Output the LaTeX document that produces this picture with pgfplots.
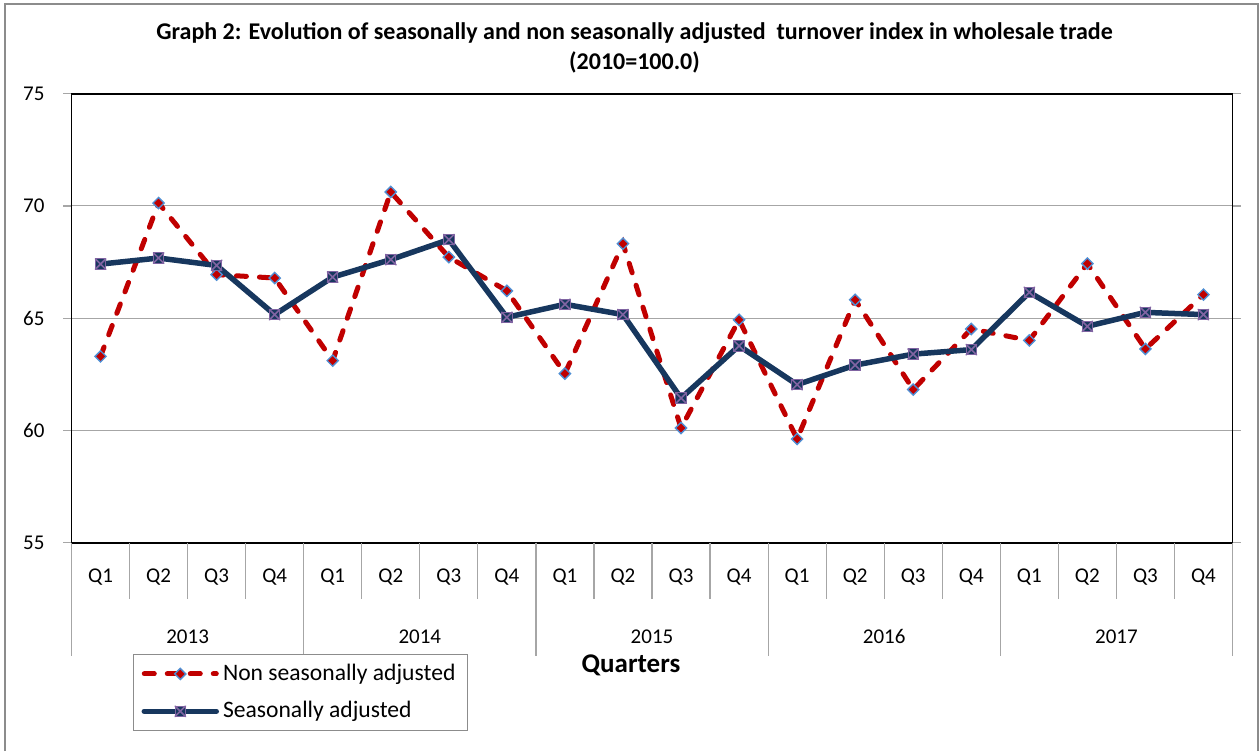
\documentclass[border=0pt]{standalone}
\usepackage{pgfplots}
\pgfplotsset{compat=1.18}
\usepackage{fontspec}
\setmainfont{Carlito}
\definecolor{nsared}{HTML}{C00000}
\definecolor{nsablue}{HTML}{4F8FD4}
\definecolor{sanavy}{HTML}{17375E}
\definecolor{sapurple}{HTML}{8064A2}
\definecolor{framegray}{HTML}{8C8C8C}
\definecolor{gridgray}{HTML}{A6A6A6}
\pgfdeclareplotmark{sqx}{%
  \pgfpathrectangle{\pgfqpoint{-\pgfplotmarksize}{-\pgfplotmarksize}}{\pgfqpoint{2\pgfplotmarksize}{2\pgfplotmarksize}}%
  \pgfsetfillcolor{sanavy}\pgfsetstrokecolor{sapurple}\pgfsetlinewidth{0.5pt}%
  \pgfusepathqfillstroke
  \pgfsetstrokecolor{sapurple}\pgfsetlinewidth{0.8pt}%
  \pgfpathmoveto{\pgfqpoint{-\pgfplotmarksize}{-\pgfplotmarksize}}%
  \pgfpathlineto{\pgfqpoint{\pgfplotmarksize}{\pgfplotmarksize}}%
  \pgfpathmoveto{\pgfqpoint{-\pgfplotmarksize}{\pgfplotmarksize}}%
  \pgfpathlineto{\pgfqpoint{\pgfplotmarksize}{-\pgfplotmarksize}}%
  \pgfusepathqstroke
}
\pgfdeclareplotmark{rdiam}{%
  \pgfpathmoveto{\pgfqpoint{0pt}{\pgfplotmarksize}}%
  \pgfpathlineto{\pgfqpoint{\pgfplotmarksize}{0pt}}%
  \pgfpathlineto{\pgfqpoint{0pt}{-\pgfplotmarksize}}%
  \pgfpathlineto{\pgfqpoint{-\pgfplotmarksize}{0pt}}%
  \pgfpathclose
  \pgfsetfillcolor{nsared}\pgfsetstrokecolor{nsablue}\pgfsetlinewidth{0.7pt}%
  \pgfsetdash{}{0pt}%
  \pgfusepathqfillstroke
}
\begin{document}
\begin{tikzpicture}
\useasboundingbox (0,0) rectangle (630pt,375.5pt);
\draw[framegray, line width=1pt] (2.5pt,0) -- (2.5pt,373.5pt) -- (629pt,373.5pt) -- (629pt,0);
\node[font=\bfseries\fontsize{12}{14}\selectfont] at (317.25pt,359pt) {Graph 2: Evolution of seasonally and non seasonally adjusted\ \ turnover index in wholesale trade};
\node[font=\bfseries\fontsize{12}{14}\selectfont] at (317.25pt,344.5pt) {(2010=100.0)};
\node[font=\bfseries\fontsize{13.5}{16}\selectfont] at (315.5pt,43pt) {Quarters};
\begin{axis}[
  at={(35.75pt,104.15pt)}, anchor=south west,
  scale only axis, width=580.5pt, height=224.5pt,
  xmin=0.5, xmax=20.5, ymin=55, ymax=75,
  ytick={55,60,65,70,75},
  xtick={1,...,20},
  xticklabels={Q1,Q2,Q3,Q4,Q1,Q2,Q3,Q4,Q1,Q2,Q3,Q4,Q1,Q2,Q3,Q4,Q1,Q2,Q3,Q4},
  xtick style={draw=none},
  ytick style={draw=gridgray, line width=0.6pt},
  tick align=outside, major tick length=4pt,
  ymajorgrids, grid style={gridgray, line width=0.5pt},
  axis line style={black, line width=0.9pt},
  /pgf/number format/assume math mode=true,
  tick label style={font=\fontsize{10.5}{12}\selectfont},
  xticklabel style={anchor=center, yshift=-13pt},
  yticklabel style={xshift=-6pt},
  clip=false,
  legend style={at={(0.053,-0.2472)}, anchor=north west, draw=framegray, line width=0.5pt,
    font=\fontsize{11.8}{14}\selectfont, inner xsep=4pt, inner ysep=3pt, row sep=5pt,
    nodes={inner sep=2pt}},
  legend cell align=left,
  legend image code/.code={\draw[mark repeat=2,mark phase=2,#1] plot coordinates {(0pt,0pt) (18pt,0pt) (36pt,0pt)};},
]
\addplot[nsared, line width=2.5pt, line cap=round, dash pattern=on 5pt off 6.5pt,
  mark=rdiam, mark size=2.8pt]
  coordinates {(1,63.30) (2,70.13) (3,66.94) (4,66.79) (5,63.11) (6,70.62) (7,67.72) (8,66.22)
  (9,62.53) (10,68.32) (11,60.11) (12,64.93) (13,59.62) (14,65.82) (15,61.82) (16,64.52)
  (17,64.01) (18,67.43) (19,63.63) (20,66.05)};
\addlegendentry{Non seasonally adjusted}
\addplot[sanavy, line width=2.75pt, line join=round, line cap=round, mark=sqx, mark size=2.6pt]
  coordinates {(1,67.41) (2,67.68) (3,67.35) (4,65.16) (5,66.83) (6,67.61) (7,68.50) (8,65.04)
  (9,65.62) (10,65.16) (11,61.44) (12,63.77) (13,62.04) (14,62.91) (15,63.40) (16,63.60)
  (17,66.15) (18,64.64) (19,65.26) (20,65.16)};
\addlegendentry{Seasonally adjusted}
\pgfplotsinvokeforeach{0.5,1.5,...,20.5}{\draw[gridgray, line width=0.6pt] (axis cs:#1,55) -- ([yshift=-28pt]axis cs:#1,55);}
\pgfplotsinvokeforeach{0.5,4.5,8.5,12.5,16.5,20.5}{\draw[gridgray, line width=0.6pt] (axis cs:#1,55) -- ([yshift=-56.5pt]axis cs:#1,55);}
\node[font=\fontsize{10.5}{12}\selectfont] at ([yshift=-47pt]axis cs:2.5,55) {2013};
\node[font=\fontsize{10.5}{12}\selectfont] at ([yshift=-47pt]axis cs:6.5,55) {2014};
\node[font=\fontsize{10.5}{12}\selectfont] at ([yshift=-47pt]axis cs:10.5,55) {2015};
\node[font=\fontsize{10.5}{12}\selectfont] at ([yshift=-47pt]axis cs:14.5,55) {2016};
\node[font=\fontsize{10.5}{12}\selectfont] at ([yshift=-47pt]axis cs:18.5,55) {2017};
\end{axis}
\end{tikzpicture}
\end{document}
